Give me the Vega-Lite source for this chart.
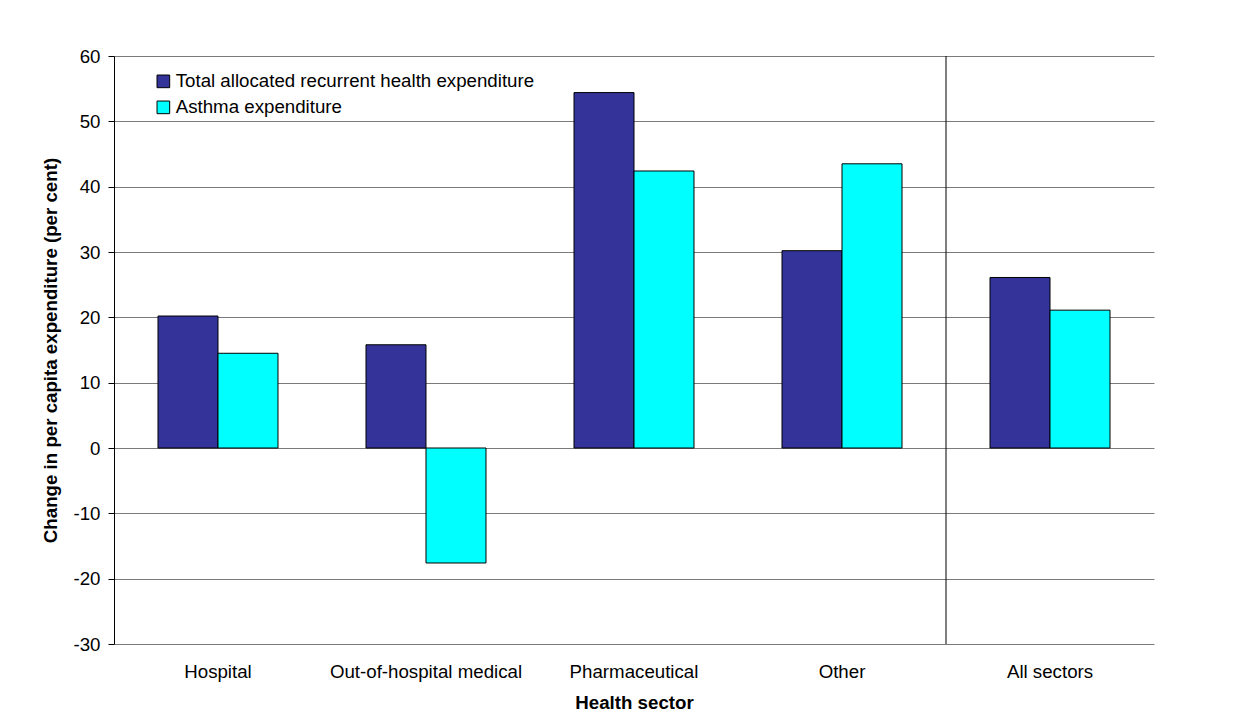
{
  "$schema": "https://vega.github.io/schema/vega-lite/v6.json",
  "width": 1040,
  "height": 588,
  "autosize": {"type": "none"},
  "padding": {"left": 114, "top": 56, "right": 84, "bottom": 73},
  "background": "white",
  "config": {
    "font": "Liberation Sans",
    "view": {"stroke": null},
    "axis": {"labelFont": "Liberation Sans", "titleFont": "Liberation Sans", "labelColor": "black", "titleColor": "black"}
  },
  "datasets": {
    "spending": [
      {"sector": "Hospital", "series": "Total allocated recurrent health expenditure", "change": 20.2},
      {"sector": "Hospital", "series": "Asthma expenditure", "change": 14.5},
      {"sector": "Out-of-hospital medical", "series": "Total allocated recurrent health expenditure", "change": 15.8},
      {"sector": "Out-of-hospital medical", "series": "Asthma expenditure", "change": -17.6},
      {"sector": "Pharmaceutical", "series": "Total allocated recurrent health expenditure", "change": 54.4},
      {"sector": "Pharmaceutical", "series": "Asthma expenditure", "change": 42.4},
      {"sector": "Other", "series": "Total allocated recurrent health expenditure", "change": 30.2},
      {"sector": "Other", "series": "Asthma expenditure", "change": 43.5},
      {"sector": "All sectors", "series": "Total allocated recurrent health expenditure", "change": 26.1},
      {"sector": "All sectors", "series": "Asthma expenditure", "change": 21.1}
    ],
    "divider": [{"sector": "All sectors"}]
  },
  "layer": [
    {
      "data": {"name": "spending"},
      "mark": {"type": "bar", "stroke": "black", "strokeWidth": 1},
      "encoding": {
        "x": {
          "field": "sector",
          "type": "nominal",
          "sort": ["Hospital", "Out-of-hospital medical", "Pharmaceutical", "Other", "All sectors"],
          "scale": {
            "domain": ["Hospital", "Out-of-hospital medical", "Pharmaceutical", "Other", "All sectors"],
            "paddingInner": 0.4231,
            "paddingOuter": 0.2115
          },
          "axis": {
            "title": "Health sector",
            "titleFontSize": 18.7,
            "titleFontWeight": "bold",
            "titlePadding": 13,
            "labelFontSize": 18.7,
            "labelAngle": 0,
            "labelPadding": 18,
            "labelLimit": 0,
            "domain": false,
            "ticks": false,
            "grid": false
          }
        },
        "xOffset": {
          "field": "series",
          "type": "nominal",
          "sort": ["Total allocated recurrent health expenditure", "Asthma expenditure"],
          "scale": {"paddingInner": 0, "paddingOuter": 0}
        },
        "y": {
          "field": "change",
          "type": "quantitative",
          "scale": {"domain": [-30, 60], "nice": false, "zero": false},
          "axis": {
            "title": "Change in per capita expenditure (per cent)",
            "titleFontSize": 18.7,
            "titleFontWeight": "bold",
            "titlePadding": 12,
            "labelFontSize": 18.7,
            "labelPadding": 8,
            "values": [-30, -20, -10, 0, 10, 20, 30, 40, 50, 60],
            "labelExpr": "datum.value < 0 ? '-' + abs(datum.value) : '' + datum.value",
            "tickSize": 6,
            "tickColor": "black",
            "domainColor": "black",
            "grid": true,
            "gridColor": "#7a7a7a",
            "gridWidth": 1,
            "gridOpacity": 1
          }
        },
        "color": {
          "field": "series",
          "type": "nominal",
          "sort": ["Total allocated recurrent health expenditure", "Asthma expenditure"],
          "scale": {
            "domain": ["Total allocated recurrent health expenditure", "Asthma expenditure"],
            "range": ["#333399", "#00ffff"]
          },
          "legend": {
            "title": null,
            "orient": "none",
            "legendX": 40,
            "legendY": 16,
            "symbolType": "square",
            "symbolSize": 160,
            "symbolStrokeColor": "black",
            "symbolStrokeWidth": 1,
            "labelFontSize": 18.7,
            "labelFont": "Liberation Sans",
            "labelColor": "black",
            "labelLimit": 0,
            "labelOffset": 3,
            "rowPadding": 6
          }
        }
      }
    },
    {
      "data": {"name": "divider"},
      "mark": {"type": "rule", "color": "black", "strokeWidth": 1},
      "encoding": {
        "x": {
          "field": "sector",
          "type": "nominal",
          "sort": ["Hospital", "Out-of-hospital medical", "Pharmaceutical", "Other", "All sectors"],
          "bandPosition": -0.3667
        }
      }
    }
  ]
}
